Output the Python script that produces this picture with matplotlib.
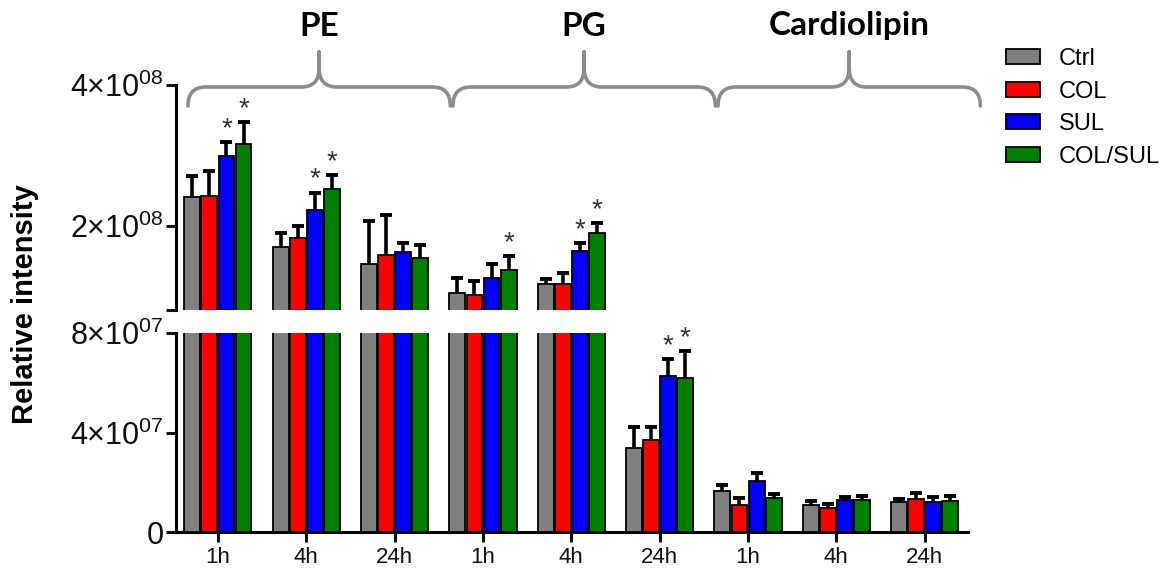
import numpy as np
import matplotlib
matplotlib.use('Agg')
import matplotlib.pyplot as plt
import matplotlib.transforms as mtransforms
from matplotlib.path import Path
from matplotlib.patches import PathPatch, Patch

lipids = ['PE', 'PG', 'Cardiolipin']
times = ['1h', '4h', '24h']
treatments = ['Ctrl', 'COL', 'SUL', 'COL/SUL']
colors = ['#808080', '#ff0000', '#0000ff', '#008000']

# means, 9 groups: PE 1h/4h/24h, PG 1h/4h/24h, Cardiolipin 1h/4h/24h
ctrl = [2.41e8, 1.70e8, 1.45e8, 1.04e8, 1.17e8, 3.39e7, 1.64e7, 1.08e7, 1.20e7]
col = [2.42e8, 1.82e8, 1.58e8, 1.01e8, 1.17e8, 3.69e7, 1.09e7, 0.96e7, 1.31e7]
sul = [2.99e8, 2.22e8, 1.63e8, 1.26e8, 1.64e8, 6.29e7, 2.04e7, 1.27e7, 1.20e7]
colsul = [3.16e8, 2.52e8, 1.54e8, 1.37e8, 1.89e8, 6.21e7, 1.35e7, 1.30e7, 1.24e7]

# upper error bars
ctrl_err = [0.29e8, 0.19e8, 0.61e8, 0.21e8, 0.07e8, 0.85e7, 0.26e7, 0.18e7, 0.14e7]
col_err = [0.35e8, 0.17e8, 0.57e8, 0.20e8, 0.15e8, 0.54e7, 0.28e7, 0.18e7, 0.26e7]
sul_err = [0.20e8, 0.25e8, 0.13e8, 0.20e8, 0.11e8, 0.66e7, 0.33e7, 0.14e7, 0.19e7]
colsul_err = [0.31e8, 0.20e8, 0.18e8, 0.20e8, 0.15e8, 1.06e7, 0.17e7, 0.16e7, 0.21e7]

# significance stars (*)
ctrl_sig = [0, 0, 0, 0, 0, 0, 0, 0, 0]
col_sig = [0, 0, 0, 0, 0, 0, 0, 0, 0]
sul_sig = [1, 1, 0, 0, 1, 1, 0, 0, 0]
colsul_sig = [1, 1, 0, 1, 1, 1, 0, 0, 0]

low_ticks = [0, 4e7, 8e7]
low_labels = ['0', r'4$\times$10$^{07}$', r'8$\times$10$^{07}$']
high_ticks = [8e7, 2e8, 4e8]
high_labels = ['', r'2$\times$10$^{08}$', r'4$\times$10$^{08}$']

means = [ctrl, col, sul, colsul]
errs = [ctrl_err, col_err, sul_err, colsul_err]
sigs = [ctrl_sig, col_sig, sul_sig, colsul_sig]

plt.rcParams['font.family'] = ['Liberation Sans', 'DejaVu Sans']
plt.rcParams['mathtext.fontset'] = 'custom'
plt.rcParams['mathtext.rm'] = 'Liberation Sans'
plt.rcParams['mathtext.it'] = 'Liberation Sans:italic'
plt.rcParams['mathtext.bf'] = 'Liberation Sans:bold'

W, H = 1173, 576
fig = plt.figure(figsize=(W / 100, H / 100), dpi=100)

left, right = 176 / W, 968 / W
ax_hi = fig.add_axes([left, 1 - 310 / H, right - left, (310 - 85) / H])
ax_lo = fig.add_axes([left, 1 - 532 / H, right - left, (532 - 333) / H])

ngroups = len(ctrl)
x = np.arange(ngroups)
step = 0.193
width = 0.18

for ax in (ax_hi, ax_lo):
    for i in range(4):
        xi = x + (i - 1.5) * step
        m = np.array(means[i])
        e = np.array(errs[i])
        ax.bar(xi, m, width, color=colors[i], edgecolor='black', linewidth=1.3, zorder=3)
        ax.vlines(xi, m, m + e, color='black', linewidth=2.6, zorder=2)
        ax.plot(xi, m + e, linestyle='none', marker='_', markersize=8,
                markeredgewidth=2.8, color='black', zorder=2)
    ax.set_xlim(-0.475, 8.49)
    for s in ('top', 'right'):
        ax.spines[s].set_visible(False)
    ax.spines['left'].set_linewidth(2.2)
    ax.tick_params(axis='y', direction='out', length=7, width=2.2, labelsize=22,
                   pad=2, colors='#111111')

ax_hi.set_ylim(8e7, 4e8)
ax_hi.spines['bottom'].set_visible(False)
ax_hi.set_xticks([])
ax_hi.set_yticks(high_ticks)
ax_hi.set_yticklabels(high_labels)

ax_lo.set_ylim(0, 8e7)
ax_lo.spines['bottom'].set_linewidth(2.2)
ax_lo.set_xticks(x)
ax_lo.set_xticklabels(times * len(lipids))
ax_lo.tick_params(axis='x', direction='out', length=7, width=2.2, labelsize=16,
                  pad=4, colors='#111111')
ax_lo.set_yticks(low_ticks)
ax_lo.set_yticklabels(low_labels)

# significance asterisks
for i in range(4):
    for g in range(ngroups):
        if sigs[i][g]:
            top = means[i][g] + errs[i][g]
            ax = ax_hi if top > 8e7 else ax_lo
            ax.annotate('*', (x[g] + (i - 1.5) * step, top), xytext=(0, 0),
                        textcoords='offset points', ha='center', va='bottom',
                        fontsize=20, color='#333333', zorder=5)

fig.text(25 / W, 1 - 304 / H, 'Relative intensity', rotation=90, ha='center',
         va='center', fontsize=21, fontweight='bold')

# curly braces over each lipid class
trans = mtransforms.blended_transform_factory(ax_hi.transData, fig.transFigure)
y_end = 1 - 106 / H
y_line = 1 - 87 / H
y_mid = 1 - 68 / H
y_tip = 1 - 52 / H
r = 0.2
for k, name in enumerate(lipids):
    x0 = 3 * k - 0.34
    x1 = 3 * k + 2.63
    xc = (x0 + x1) / 2
    verts = [(x0, y_end), (x0, y_line), (x0 + r, y_line),
             (xc - r, y_line), (xc, y_line), (xc, y_mid),
             (xc, y_tip), (xc, y_mid),
             (xc, y_line), (xc + r, y_line),
             (x1 - r, y_line), (x1, y_line), (x1, y_end)]
    codes = [Path.MOVETO, Path.CURVE3, Path.CURVE3,
             Path.LINETO, Path.CURVE3, Path.CURVE3,
             Path.LINETO, Path.LINETO,
             Path.CURVE3, Path.CURVE3,
             Path.LINETO, Path.CURVE3, Path.CURVE3]
    fig.add_artist(PathPatch(Path(verts, codes), transform=trans, fill=False,
                             edgecolor='#8c8c8c', linewidth=2.6, capstyle='round',
                             joinstyle='round'))
    fig.text(xc, 1 - 26 / H, name, transform=trans, ha='center', va='center',
             fontsize=24, fontweight='bold', family=['Lato', 'DejaVu Sans'])

handles = [Patch(facecolor=c, edgecolor='black', linewidth=1.3) for c in colors]
fig.legend(handles, treatments, loc='upper left', bbox_to_anchor=(1006 / W, 1 - 48 / H),
           frameon=False, fontsize=17, handlelength=1.45, handleheight=0.6,
           labelspacing=0.45, handletextpad=0.8, borderaxespad=0, borderpad=0)

fig.savefig('out.png', dpi=100)
